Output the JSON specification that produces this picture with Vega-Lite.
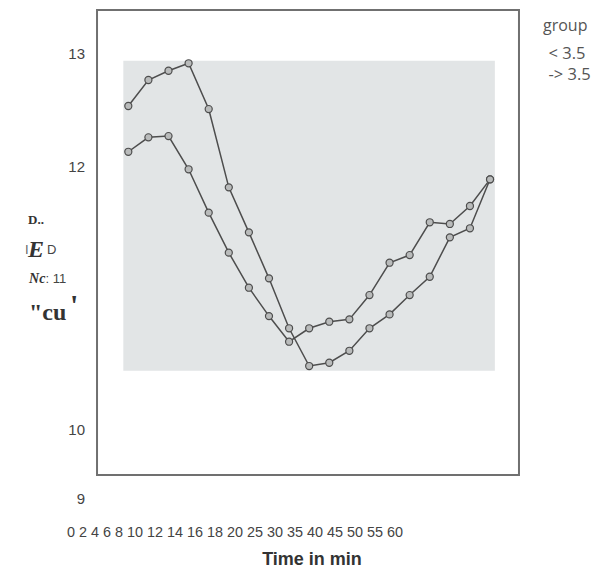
{
  "$schema": "https://vega.github.io/schema/vega-lite/v6.json",
  "width": 607,
  "height": 570,
  "padding": 0,
  "autosize": {"type": "none"},
  "background": "white",
  "config": {"view": {"stroke": null}},
  "datasets": {
    "series": [
      {"group": "< 3.5", "time": 0, "step": 1, "value": 12.54},
      {"group": "< 3.5", "time": 2, "step": 2, "value": 12.77},
      {"group": "< 3.5", "time": 4, "step": 3, "value": 12.852},
      {"group": "< 3.5", "time": 6, "step": 4, "value": 12.918},
      {"group": "< 3.5", "time": 8, "step": 5, "value": 12.513},
      {"group": "< 3.5", "time": 10, "step": 6, "value": 11.82},
      {"group": "< 3.5", "time": 12, "step": 7, "value": 11.422},
      {"group": "< 3.5", "time": 14, "step": 8, "value": 11.015},
      {"group": "< 3.5", "time": 16, "step": 9, "value": 10.573},
      {"group": "< 3.5", "time": 18, "step": 10, "value": 10.239},
      {"group": "< 3.5", "time": 20, "step": 11, "value": 10.268},
      {"group": "< 3.5", "time": 25, "step": 12, "value": 10.374},
      {"group": "< 3.5", "time": 30, "step": 13, "value": 10.573},
      {"group": "< 3.5", "time": 35, "step": 14, "value": 10.696},
      {"group": "< 3.5", "time": 40, "step": 15, "value": 10.867},
      {"group": "< 3.5", "time": 45, "step": 16, "value": 11.029},
      {"group": "< 3.5", "time": 50, "step": 17, "value": 11.378},
      {"group": "< 3.5", "time": 55, "step": 18, "value": 11.458},
      {"group": "< 3.5", "time": 60, "step": 19, "value": 11.891},
      {"group": "-> 3.5", "time": 0, "step": 1, "value": 12.135},
      {"group": "-> 3.5", "time": 2, "step": 2, "value": 12.263},
      {"group": "-> 3.5", "time": 4, "step": 3, "value": 12.274},
      {"group": "-> 3.5", "time": 6, "step": 4, "value": 11.98},
      {"group": "-> 3.5", "time": 8, "step": 5, "value": 11.596},
      {"group": "-> 3.5", "time": 10, "step": 6, "value": 11.242},
      {"group": "-> 3.5", "time": 12, "step": 7, "value": 10.932},
      {"group": "-> 3.5", "time": 14, "step": 8, "value": 10.681},
      {"group": "-> 3.5", "time": 16, "step": 9, "value": 10.454},
      {"group": "-> 3.5", "time": 18, "step": 10, "value": 10.573},
      {"group": "-> 3.5", "time": 20, "step": 11, "value": 10.631},
      {"group": "-> 3.5", "time": 25, "step": 12, "value": 10.652},
      {"group": "-> 3.5", "time": 30, "step": 13, "value": 10.867},
      {"group": "-> 3.5", "time": 35, "step": 14, "value": 11.153},
      {"group": "-> 3.5", "time": 40, "step": 15, "value": 11.221},
      {"group": "-> 3.5", "time": 45, "step": 16, "value": 11.511},
      {"group": "-> 3.5", "time": 50, "step": 17, "value": 11.496},
      {"group": "-> 3.5", "time": 55, "step": 18, "value": 11.655},
      {"group": "-> 3.5", "time": 60, "step": 19, "value": 11.891}
    ],
    "yticks": [
      {"label": "13", "at": 13.0},
      {"label": "12", "at": 12.0},
      {"label": "10", "at": 9.673},
      {"label": "9", "at": 9.062}
    ]
  },
  "layer": [
    {
      "data": {"values": [{}]},
      "mark": {"type": "rect", "fill": "white", "stroke": "#707070", "strokeWidth": 2},
      "encoding": {
        "x": {"datum": -0.557, "type": "quantitative", "scale": {"domain": [-5.385, 24.82], "nice": false, "zero": false}, "axis": null},
        "x2": {"datum": 20.44},
        "y": {"datum": 9.274, "type": "quantitative", "scale": {"domain": [8.434, 13.478], "nice": false, "zero": false}, "axis": null},
        "y2": {"datum": 13.389}
      }
    },
    {
      "data": {"values": [{}]},
      "mark": {"type": "rect", "fill": "#e2e5e6"},
      "encoding": {
        "x": {"datum": 0.751, "type": "quantitative"},
        "x2": {"datum": 19.24},
        "y": {"datum": 10.197, "type": "quantitative"},
        "y2": {"datum": 12.941}
      }
    },
    {
      "data": {"name": "series"},
      "mark": {"type": "line", "strokeWidth": 1.5},
      "encoding": {
        "x": {"field": "step", "type": "quantitative"},
        "y": {"field": "value", "type": "quantitative"},
        "color": {
          "field": "group",
          "type": "nominal",
          "scale": {"domain": ["< 3.5", "-> 3.5"], "range": ["#4d4d4d", "#4d4d4d"]},
          "legend": {
            "orient": "none",
            "legendX": 543,
            "legendY": 18,
            "title": "group",
            "titleFont": "Open Sans",
            "titleFontSize": 16,
            "titleFontWeight": "normal",
            "titleColor": "#555555",
            "titlePadding": 12,
            "labelFont": "Open Sans",
            "labelFontSize": 16.5,
            "labelColor": "#555555",
            "labelOffset": -11,
            "rowPadding": 4,
            "symbolType": "circle",
            "symbolSize": 9,
            "symbolOpacity": 0,
            "symbolStrokeWidth": 0
          }
        }
      }
    },
    {
      "data": {"name": "series"},
      "mark": {"type": "point", "shape": "circle", "size": 50, "filled": true, "fill": "#b9bbbb", "stroke": "#4d4d4d", "strokeWidth": 1.2, "opacity": 1},
      "encoding": {
        "x": {"field": "step", "type": "quantitative"},
        "y": {"field": "value", "type": "quantitative"},
        "detail": {"field": "group"}
      }
    },
    {
      "data": {"name": "yticks"},
      "mark": {"type": "text", "align": "right", "baseline": "middle", "font": "Liberation Sans", "fontSize": 15, "color": "#444444"},
      "encoding": {
        "x": {"datum": -1.154, "type": "quantitative"},
        "y": {"field": "at", "type": "quantitative"},
        "text": {"field": "label"}
      }
    },
    {
      "data": {"values": [{}]},
      "mark": {"type": "text", "align": "left", "baseline": "middle", "font": "Liberation Serif", "fontWeight": "bold", "fontSize": 13, "color": "#333333"},
      "encoding": {
        "x": {"datum": -3.99, "type": "quantitative"},
        "y": {"datum": 11.531, "type": "quantitative"},
        "text": {"value": "D.."}
      }
    },
    {
      "data": {"values": [{}]},
      "mark": {"type": "text", "align": "left", "baseline": "middle", "font": "Liberation Sans", "fontSize": 13, "color": "#666666"},
      "encoding": {
        "x": {"datum": -4.14, "type": "quantitative"},
        "y": {"datum": 11.265, "type": "quantitative"},
        "text": {"value": "I"}
      }
    },
    {
      "data": {"values": [{}]},
      "mark": {"type": "text", "align": "left", "baseline": "middle", "font": "Liberation Serif", "fontWeight": "bold", "fontStyle": "italic", "fontSize": 24, "color": "#333333"},
      "encoding": {
        "x": {"datum": -3.99, "type": "quantitative"},
        "y": {"datum": 11.265, "type": "quantitative"},
        "text": {"value": "E"}
      }
    },
    {
      "data": {"values": [{}]},
      "mark": {"type": "text", "align": "left", "baseline": "middle", "font": "Liberation Sans", "fontSize": 13, "color": "#444444"},
      "encoding": {
        "x": {"datum": -3.045, "type": "quantitative"},
        "y": {"datum": 11.265, "type": "quantitative"},
        "text": {"value": "D"}
      }
    },
    {
      "data": {"values": [{}]},
      "mark": {"type": "text", "align": "left", "baseline": "middle", "font": "Liberation Serif", "fontWeight": "bold", "fontStyle": "italic", "fontSize": 14, "color": "#333333"},
      "encoding": {
        "x": {"datum": -3.94, "type": "quantitative"},
        "y": {"datum": 11.009, "type": "quantitative"},
        "text": {"value": "Nc"}
      }
    },
    {
      "data": {"values": [{}]},
      "mark": {"type": "text", "align": "left", "baseline": "middle", "font": "Liberation Sans", "fontSize": 13, "color": "#444444"},
      "encoding": {
        "x": {"datum": -3.12, "type": "quantitative"},
        "y": {"datum": 11.009, "type": "quantitative"},
        "text": {"value": ": 11"}
      }
    },
    {
      "data": {"values": [{}]},
      "mark": {"type": "text", "align": "left", "baseline": "middle", "font": "Liberation Serif", "fontWeight": "bold", "fontSize": 24, "color": "#333333"},
      "encoding": {
        "x": {"datum": -3.94, "type": "quantitative"},
        "y": {"datum": 10.708, "type": "quantitative"},
        "text": {"value": "\"cu"}
      }
    },
    {
      "data": {"values": [{}]},
      "mark": {"type": "text", "align": "left", "baseline": "middle", "font": "Liberation Serif", "fontWeight": "bold", "fontSize": 30, "color": "#333333"},
      "encoding": {
        "x": {"datum": -1.9, "type": "quantitative"},
        "y": {"datum": 10.77, "type": "quantitative"},
        "text": {"value": "'"}
      }
    },
    {
      "data": {"values": [{}]},
      "mark": {"type": "text", "align": "left", "baseline": "middle", "font": "Liberation Sans", "fontSize": 14.4, "color": "#444444"},
      "encoding": {
        "x": {"datum": -2.05, "type": "quantitative"},
        "y": {"datum": 8.761, "type": "quantitative"},
        "text": {"value": "0 2 4 6 8 10 12 14 16 18 20 25 30 35 40 45 50 55 60"}
      }
    },
    {
      "data": {"values": [{}]},
      "mark": {"type": "text", "align": "center", "baseline": "middle", "font": "Liberation Sans", "fontWeight": "bold", "fontSize": 18, "color": "#333333"},
      "encoding": {
        "x": {"datum": 10.139, "type": "quantitative"},
        "y": {"datum": 8.522, "type": "quantitative"},
        "text": {"value": "Time in min"}
      }
    }
  ]
}
